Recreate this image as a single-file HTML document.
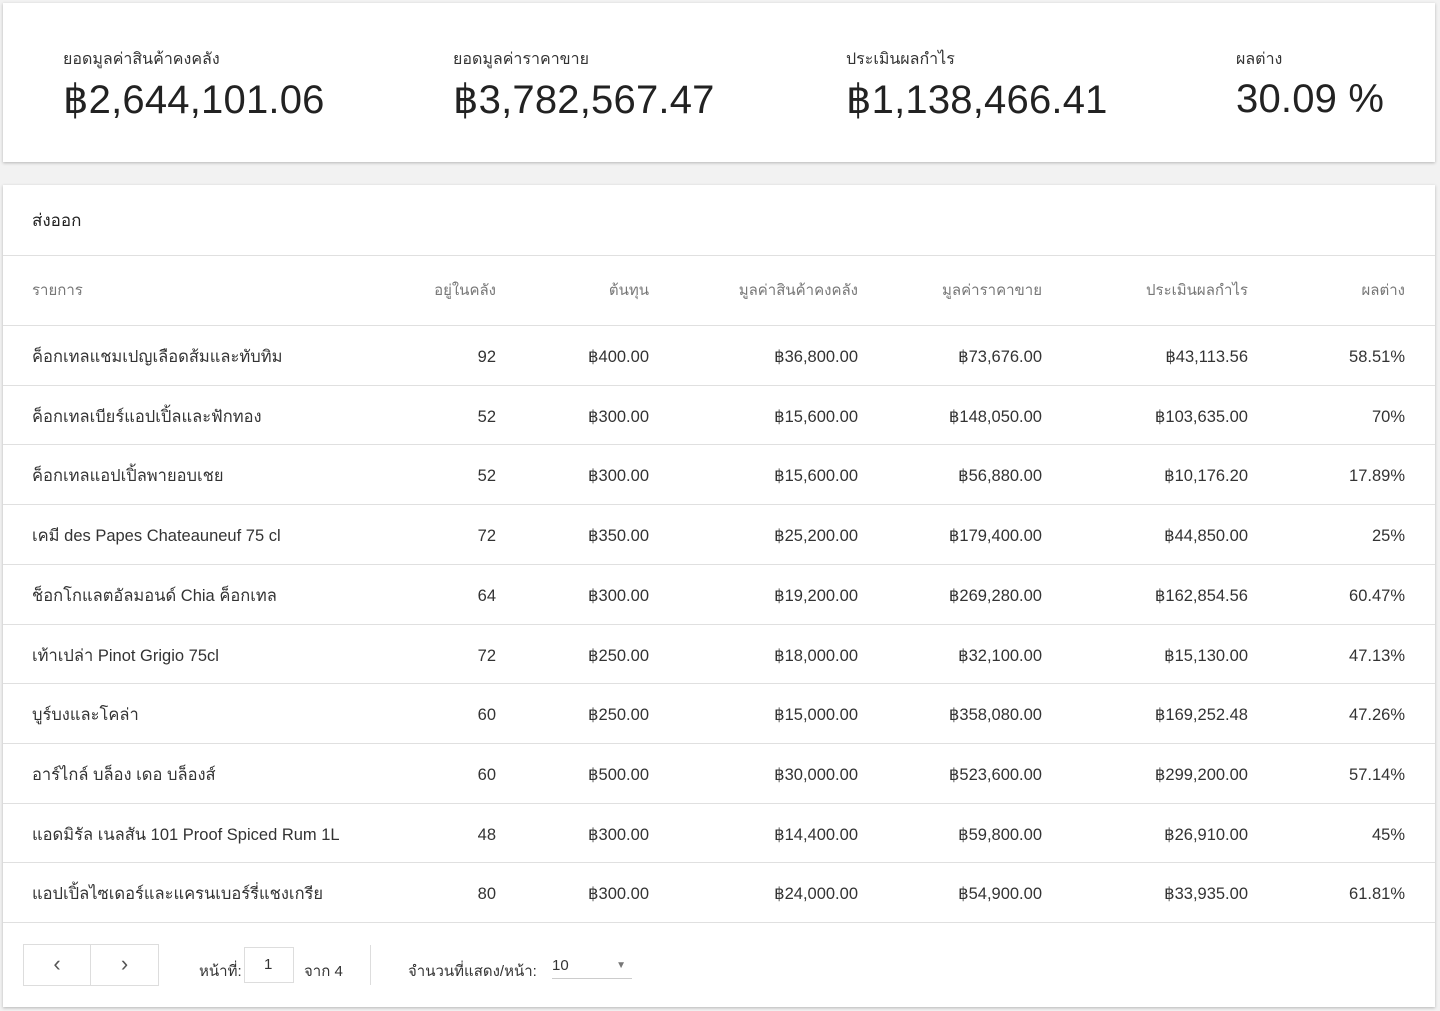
<!DOCTYPE html>
<html><head><meta charset="utf-8"><style>
*{margin:0;padding:0;box-sizing:border-box}
body{width:1440px;height:1011px;background:#f2f2f2;font-family:"Liberation Sans","DejaVu Sans",sans-serif;color:#333;position:relative;overflow:hidden}
.card{position:absolute;background:#fff;box-shadow:0 1px 3px rgba(0,0,0,.25)}
.top{left:3px;top:3px;width:1432px;height:159px}
.stat{position:absolute;top:44px}
.stat .l{font-size:16px;color:#333}
.stat .v{font-size:40px;color:#222;margin-top:5px;letter-spacing:.2px}
.main{left:3px;top:185px;width:1432px;height:822px}
.title{position:absolute;left:29px;top:22px;font-size:17px;color:#222}
.row{position:absolute;left:0;width:1432px;height:60px;border-top:1px solid #e0e0e0}
.c{position:absolute;top:2px;line-height:58px;font-size:16.5px;color:#333;white-space:nowrap}
.h .c{color:#777;font-size:15px;line-height:68px;top:1px}
.r{text-align:right}
.pg{position:absolute;top:737px;left:0;width:1432px;height:85px;border-top:1px solid #e0e0e0}
.btn{position:absolute;top:21px;height:42px;border:1px solid #ddd;font-size:22px;color:#555;text-align:center;line-height:38px}
</style></head><body>
<div class="card top">
<div class="stat" style="left:60px"><div class="l">ยอดมูลค่าสินค้าคงคลัง</div><div class="v">฿2,644,101.06</div></div>
<div class="stat" style="left:450px"><div class="l">ยอดมูลค่าราคาขาย</div><div class="v">฿3,782,567.47</div></div>
<div class="stat" style="left:843px"><div class="l">ประเมินผลกำไร</div><div class="v">฿1,138,466.41</div></div>
<div class="stat" style="left:1233px"><div class="l">ผลต่าง</div><div class="v">30.09 %</div></div>
</div>
<div class="card main">
<div class="title">ส่งออก</div>
<div class="row h" style="top:70px;height:70px">
<div class="c" style="left:29px">รายการ</div>
<div class="c r" style="right:939px">อยู่ในคลัง</div>
<div class="c r" style="right:786px">ต้นทุน</div>
<div class="c r" style="right:577px">มูลค่าสินค้าคงคลัง</div>
<div class="c r" style="right:393px">มูลค่าราคาขาย</div>
<div class="c r" style="right:187px">ประเมินผลกำไร</div>
<div class="c r" style="right:30px">ผลต่าง</div>
</div>
<div id="rows"></div>
<div class="pg">
<div class="btn" style="left:20px;width:68px">‹</div>
<div class="btn" style="left:87px;width:69px">›</div>
<div style="position:absolute;left:196px;top:36px;font-size:15px">หน้าที่:</div>
<div style="position:absolute;left:241px;top:24px;width:50px;height:36px;border:1px solid #ddd;font-size:15px;line-height:34px;padding-left:19px">1</div>
<div style="position:absolute;left:301px;top:36px;font-size:15px">จาก 4</div>
<div style="position:absolute;left:367px;top:22px;width:1px;height:40px;background:#ddd"></div>
<div style="position:absolute;left:405px;top:36px;font-size:15px">จำนวนที่แสดง/หน้า:</div>
<div style="position:absolute;left:549px;top:20px;width:80px;height:36px;border-bottom:1px solid #ccc;font-size:15px;line-height:46px">10<span style="position:absolute;right:6px;top:0;font-size:10px;color:#777">▼</span></div>
</div>
</div>
<script>
var d=[["ค็อกเทลแชมเปญเลือดส้มและทับทิม","92","฿400.00","฿36,800.00","฿73,676.00","฿43,113.56","58.51%"],
["ค็อกเทลเบียร์แอปเปิ้ลและฟักทอง","52","฿300.00","฿15,600.00","฿148,050.00","฿103,635.00","70%"],
["ค็อกเทลแอปเปิ้ลพายอบเชย","52","฿300.00","฿15,600.00","฿56,880.00","฿10,176.20","17.89%"],
["เคมี des Papes Chateauneuf 75 cl","72","฿350.00","฿25,200.00","฿179,400.00","฿44,850.00","25%"],
["ช็อกโกแลตอัลมอนด์ Chia ค็อกเทล","64","฿300.00","฿19,200.00","฿269,280.00","฿162,854.56","60.47%"],
["เท้าเปล่า Pinot Grigio 75cl","72","฿250.00","฿18,000.00","฿32,100.00","฿15,130.00","47.13%"],
["บูร์บงและโคล่า","60","฿250.00","฿15,000.00","฿358,080.00","฿169,252.48","47.26%"],
["อาร์ไกล์ บล็อง เดอ บล็องส์","60","฿500.00","฿30,000.00","฿523,600.00","฿299,200.00","57.14%"],
["แอดมิรัล เนลสัน 101 Proof Spiced Rum 1L","48","฿300.00","฿14,400.00","฿59,800.00","฿26,910.00","45%"],
["แอปเปิ้ลไซเดอร์และแครนเบอร์รี่แชงเกรีย","80","฿300.00","฿24,000.00","฿54,900.00","฿33,935.00","61.81%"]];
var rt=[939,786,577,393,187,30],h="";
d.forEach(function(r,i){h+='<div class="row" style="top:'+(140+i*59.7)+'px"><div class="c" style="left:29px">'+r[0]+'</div>';
for(var j=1;j<7;j++)h+='<div class="c r" style="right:'+rt[j-1]+'px">'+r[j]+'</div>';h+='</div>';});
document.getElementById('rows').innerHTML=h;
</script>
</body></html>
